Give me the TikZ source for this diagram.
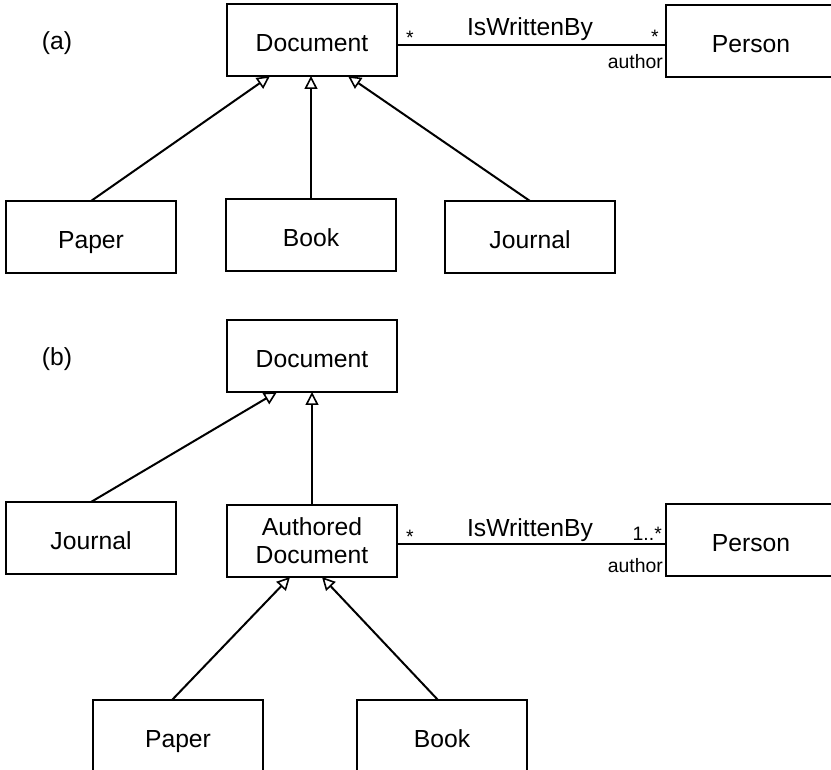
\documentclass[tikz,border=0pt]{standalone}
\usepackage{fontspec}
\setmainfont{Liberation Sans}
\usetikzlibrary{arrows.meta}
\begin{document}
\begin{tikzpicture}[x=1pt,y=-1pt,
  boxbase/.style={draw, line width=2pt, minimum width=170pt, minimum height=72pt,
    inner sep=0pt, outer sep=0pt, font=\fontsize{24.7}{28}\selectfont},
  cls/.style={boxbase, text height=23pt, text depth=0pt},
  gen/.style={line width=2pt, -{Triangle[open, length=13pt, width=13pt, line width=1.6pt]}},
  assoc/.style={line width=2pt},
  role/.style={inner sep=0pt, anchor=base, font=\fontsize{19.4}{22}\selectfont},
  assocname/.style={inner sep=0pt, anchor=base, font=\fontsize{24.7}{28}\selectfont},
  tag/.style={inner sep=0pt, anchor=base, font=\fontsize{24.7}{28}\selectfont}]
\clip (0,0) rectangle (831,770);
\fill[white] (0,0) rectangle (831,770);

% ---------- (a) ----------
\node[tag] (tagA) at (57,50) {(a)};
\node[cls] (docA) at (312,40) {Document};
\node[cls] (personA) at (751,41) {Person};
\node[cls] (paperA) at (91,237) {Paper};
\node[cls] (bookA) at (311,235) {Book};
\node[cls] (journalA) at (530,237) {Journal};

\draw[gen] (paperA.north) -- ([xshift=-42pt]docA.south);
\draw[gen] (bookA.north) -- (bookA.north |- docA.south);
\draw[gen] (journalA.north) -- ([xshift=36pt]docA.south);

\coordinate (jA) at ([yshift=-5pt]docA.east);
\draw[assoc] (jA) -- (jA -| personA.west);
\node[role] (mA1) at (410,45) {*};
\node[assocname] (nameA) at (530,36) {IsWrittenBy};
\node[role] (mA2) at (655,44) {*};
\node[role, anchor=base east] (roleA) at (663,69) {author};

% ---------- (b) ----------
\node[tag] (tagB) at (57,366) {(b)};
\node[cls] (docB) at (312,356) {Document};
\node[cls] (journalB) at (91,538) {Journal};
\node[boxbase, align=center] (authB) at (312,541) {Authored\\Document};
\node[cls] (personB) at (751,540) {Person};
\node[cls] (paperB) at (178,736) {Paper};
\node[cls] (bookB) at (442,736) {Book};

\draw[gen] (journalB.north) -- ([xshift=-35pt]docB.south);
\draw[gen] (authB.north) -- (authB.north |- docB.south);
\draw[gen] ([xshift=-6pt]paperB.north) -- ([xshift=-22pt]authB.south);
\draw[gen] ([xshift=-4pt]bookB.north) -- ([xshift=10pt]authB.south);

\coordinate (jB) at ([yshift=-3pt]authB.east);
\draw[assoc] (jB) -- (jB -| personB.west);
\node[role] (mB1) at (410,543) {*};
\node[assocname] (nameB) at (530,536) {IsWrittenBy};
\node[role, anchor=base east] (mB2) at (662,540) {1..*};
\node[role, anchor=base east] (roleB) at (663,572) {author};
\end{tikzpicture}
\end{document}
